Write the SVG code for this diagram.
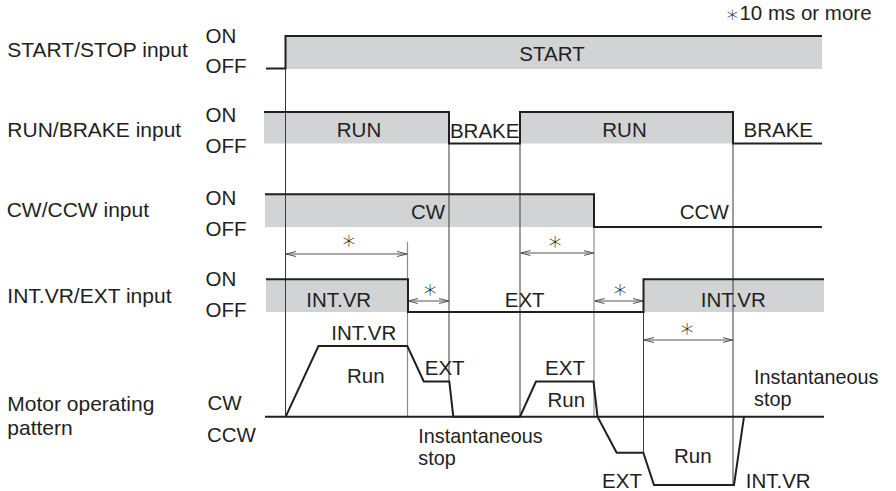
<svg xmlns="http://www.w3.org/2000/svg" width="896" height="491" viewBox="0 0 896 491">
  <defs>
    <style>
      text { font-family: "Liberation Sans", Arial, sans-serif; font-size: 20.5px; fill: #231f20; }
      .lbl { font-size: 21px; }
      .two { font-size: 19.8px; }
      .mid { text-anchor: middle; }
      .ast { font-family: "DejaVu Sans", sans-serif; font-size: 26px; font-weight: 300; text-anchor: middle; fill: #111; }
      .bar { fill: #d1d3d4; }
      .sig { fill: none; stroke: #231f20; stroke-width: 2; stroke-linejoin: miter; }
      .guide { fill: none; stroke: #3a3a3a; stroke-width: 1; }
      .guide2 { fill: none; stroke: #8c8c8c; stroke-width: 1.2; }
      .dim { fill: none; stroke: #555; stroke-width: 1; marker-start: url(#arr); marker-end: url(#arr); }
    </style>
    <marker id="arr" viewBox="0 0 10 6" refX="10" refY="3" markerWidth="10" markerHeight="6" markerUnits="userSpaceOnUse" orient="auto-start-reverse">
      <path d="M0,0.5 L10,3 L0,5.5" fill="none" stroke="#555" stroke-width="1"/>
    </marker>
  </defs>
  <rect width="896" height="491" fill="#ffffff"/>

  <!-- note -->
  <g id="note">
    <text x="725" y="20"><tspan font-family="DejaVu Sans" font-size="23" font-weight="300" fill="#111" dy="2">∗</tspan><tspan dy="-2">10 ms or more</tspan></text>
  </g>

  <!-- gray bars -->
  <g id="bars">
    <rect class="bar" x="286" y="36" width="536" height="33"/>
    <rect class="bar" x="264" y="112" width="185" height="31.5"/>
    <rect class="bar" x="520" y="112" width="213" height="31.5"/>
    <rect class="bar" x="265" y="194" width="329" height="33"/>
    <rect class="bar" x="266" y="279" width="142" height="33"/>
    <rect class="bar" x="644" y="279" width="180" height="33"/>
  </g>

  <!-- connectors: guide lines and dimension arrows -->
  <g id="connectors">
    <line class="guide" x1="285.5" y1="36" x2="285.5" y2="417"/>
    <line class="guide2" x1="407.5" y1="242" x2="407.5" y2="417"/>
    <line class="guide" x1="449" y1="112" x2="449" y2="381.5"/>
    <line class="guide" x1="520" y1="112" x2="520" y2="417"/>
    <line class="guide2" x1="594" y1="227" x2="594" y2="417"/>
    <line class="guide" x1="643.5" y1="279" x2="643.5" y2="453"/>
    <line class="guide" x1="733" y1="112" x2="733" y2="485"/>
    <line class="dim" x1="286" y1="254" x2="407" y2="254"/>
    <line class="dim" x1="408" y1="301" x2="449" y2="301"/>
    <line class="dim" x1="520.5" y1="253" x2="593.5" y2="253"/>
    <line class="dim" x1="594.5" y1="301" x2="643" y2="301"/>
    <line class="dim" x1="644" y1="340" x2="732.5" y2="340"/>
  </g>

  <g id="asterisks">
    <text class="ast" x="348.7" y="249">∗</text>
    <text class="ast" x="430" y="298">∗</text>
    <text class="ast" x="555" y="250">∗</text>
    <text class="ast" x="620" y="298">∗</text>
    <text class="ast" x="687" y="337">∗</text>
  </g>

  <!-- START/STOP -->
  <g id="row-start">
    <text class="lbl" x="7.3" y="57">START/STOP input</text>
    <text x="205.5" y="42.7">ON</text>
    <text x="205.5" y="73.3">OFF</text>
    <polyline class="sig" points="266,68.5 285.5,68.5 285.5,36 822,36"/>
    <text class="mid" x="552" y="60.7">START</text>
  </g>

  <!-- RUN/BRAKE -->
  <g id="row-run">
    <text class="lbl" x="7.3" y="136.5">RUN/BRAKE input</text>
    <text x="205.5" y="121.5">ON</text>
    <text x="205.5" y="153">OFF</text>
    <polyline class="sig" points="264,112 449,112 449,143.5 520,143.5 520,112 733,112 733,143.5 822,143.5"/>
    <text class="mid" x="359" y="137.3">RUN</text>
    <text class="mid" x="484.7" y="138" font-size="19">BRAKE</text>
    <text class="mid" x="624.5" y="137.3">RUN</text>
    <text class="mid" x="778.3" y="137.3">BRAKE</text>
  </g>

  <!-- CW/CCW -->
  <g id="row-dir">
    <text class="lbl" x="6.7" y="217">CW/CCW input</text>
    <text x="205.5" y="205">ON</text>
    <text x="205.5" y="236">OFF</text>
    <polyline class="sig" points="265,194.3 594,194.3 594,227 822,227"/>
    <text class="mid" x="428" y="219.3">CW</text>
    <text class="mid" x="704.3" y="219.3">CCW</text>
  </g>

  <!-- INT.VR/EXT -->
  <g id="row-speed">
    <text class="lbl" x="7.3" y="302.5">INT.VR/EXT input</text>
    <text x="205.5" y="286">ON</text>
    <text x="205.5" y="317">OFF</text>
    <polyline class="sig" points="266,279.3 408,279.3 408,312 643.5,312 643.5,279.3 824,279.3"/>
    <text class="mid" x="338.7" y="306.7">INT.VR</text>
    <text class="mid" x="524.7" y="306.7">EXT</text>
    <text class="mid" x="733.3" y="306.7">INT.VR</text>
  </g>

  <!-- Motor operating pattern -->
  <g id="row-motor">
    <text class="lbl" x="7.3" y="410.5">Motor operating</text>
    <text class="lbl" x="7.3" y="435">pattern</text>
    <text x="207.5" y="410">CW</text>
    <text x="207" y="441.5">CCW</text>
    <line class="sig" x1="265" y1="416.7" x2="824" y2="416.7"/>
    <polyline class="sig" points="285.7,416.7 318.5,346 407.3,346 423.8,381.5 449.3,381.5 453.3,416.7 520,416.7 536,381.5 593.5,381.5 597.5,416.7 616.7,452.7 643.3,452.7 654,485 734,485 744,416.7"/>
    <text class="mid" x="363.8" y="340">INT.VR</text>
    <text class="mid" x="365.8" y="382.7">Run</text>
    <text class="mid" x="444.7" y="375">EXT</text>
    <text class="two" x="418.3" y="442.5">Instantaneous</text>
    <text class="two" x="418.3" y="465">stop</text>
    <text class="mid" x="565" y="375">EXT</text>
    <text class="mid" x="566.3" y="406.7">Run</text>
    <text class="mid" x="622" y="488">EXT</text>
    <text class="mid" x="692.8" y="463.3">Run</text>
    <text x="745.7" y="488">INT.VR</text>
    <text class="two" x="754" y="383.5">Instantaneous</text>
    <text class="two" x="754" y="406">stop</text>
  </g>
</svg>
